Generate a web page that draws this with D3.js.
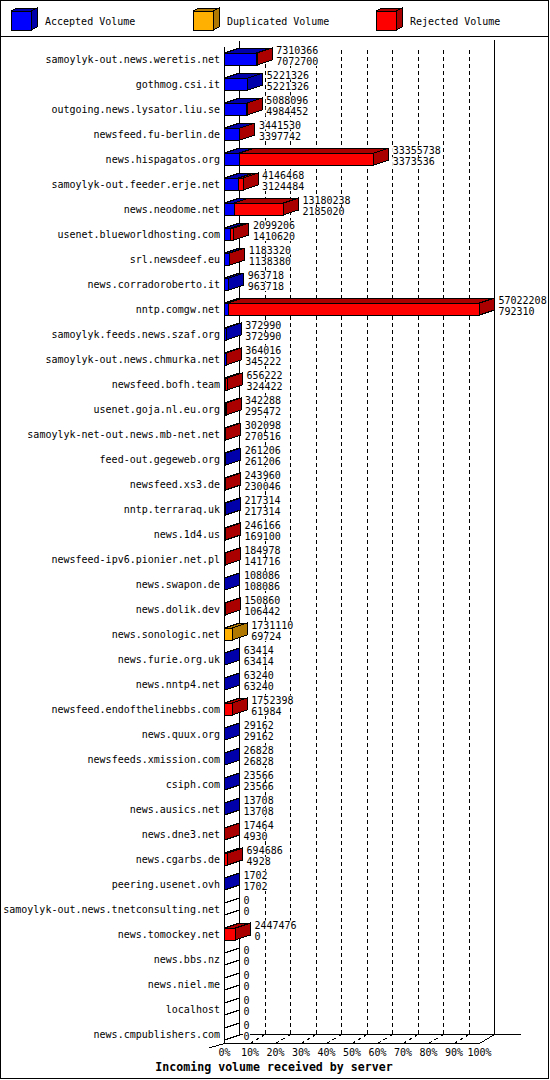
<!DOCTYPE html>
<html><head><meta charset="utf-8">
<script src="https://cdn.jsdelivr.net/npm/d3@7"></script>
<style>
body{margin:0;background:#fff}
svg text{font-family:"DejaVu Sans Mono","Liberation Mono",monospace;font-size:10px;fill:#000}
</style>
</head><body><svg id="c" width="550" height="1080"></svg>
<script>
const servers=["samoylyk-out.news.weretis.net","gothmog.csi.it","outgoing.news.lysator.liu.se","newsfeed.fu-berlin.de","news.hispagatos.org","samoylyk-out.feeder.erje.net","news.neodome.net","usenet.blueworldhosting.com","srl.newsdeef.eu","news.corradoroberto.it","nntp.comgw.net","samoylyk.feeds.news.szaf.org","samoylyk-out.news.chmurka.net","newsfeed.bofh.team","usenet.goja.nl.eu.org","samoylyk-net-out.news.mb-net.net","feed-out.gegeweb.org","newsfeed.xs3.de","nntp.terraraq.uk","news.1d4.us","newsfeed-ipv6.pionier.net.pl","news.swapon.de","news.dolik.dev","news.sonologic.net","news.furie.org.uk","news.nntp4.net","newsfeed.endofthelinebbs.com","news.quux.org","newsfeeds.xmission.com","csiph.com","news.ausics.net","news.dne3.net","news.cgarbs.de","peering.usenet.ovh","samoylyk-out.news.tnetconsulting.net","news.tomockey.net","news.bbs.nz","news.niel.me","localhost","news.cmpublishers.com"];
const totalVolume=[7310366,5221326,5088096,3441530,33355738,4146468,13180238,2099206,1183320,963718,57022208,372990,364016,656222,342288,302098,261206,243960,217314,246166,184978,108086,150860,1731110,63414,63240,1752398,29162,26828,23566,13708,17464,694686,1702,0,2447476,0,0,0,0];
const acceptedVolume=[7072700,5221326,4984452,3397742,3373536,3124484,2185020,1410620,1138380,963718,792310,372990,345222,324422,295472,270516,261206,230046,217314,169100,141716,108086,106442,69724,63414,63240,61984,29162,26828,23566,13708,4930,4928,1702,0,0,0,0,0,0];
const duplicatedVolume=[0,0,0,0,0,0,0,0,0,0,0,0,0,0,0,0,0,0,0,0,0,0,0,1661386,0,0,0,0,0,0,0,0,0,0,0,0,0,0,0,0];
const rejectedVolume=[237666,0,103644,43788,29982202,1021984,10995218,688586,44940,0,56229898,0,18794,331800,46816,31582,0,13914,0,77066,43262,0,44418,0,0,0,1690414,0,0,0,0,12534,689758,0,0,2447476,0,0,0,0];
const percentTicks=[0,10,20,30,40,50,60,70,80,90,100];
const seriesNames=["Accepted Volume","Duplicated Volume","Rejected Volume"];
const frontColors=["#0000ff","#ffb000","#ff0000"];
const sideColors=["#0000aa","#b07800","#aa0000"];
const axisTitle="Incoming volume received by server";

const svg=d3.select("#c");
const DX=15, DY=-5, H=12;
const x=d3.scaleLinear().domain([0,d3.max(totalVolume)]).range([224.5,479.5]);
const xp=d3.scaleLinear().domain([0,100]).range([224.5,479.5]);
const y=d3.scaleBand().domain(servers).range([46.5,1046.5]);
const floorY=1043.5, backFloorY=1034.5;

svg.append("rect").attr("x",0).attr("y",0).attr("width",550).attr("height",1080).attr("fill","#fff");
svg.append("rect").attr("x",0.5).attr("y",0.5).attr("width",548).attr("height",1078)
  .attr("fill","none").attr("stroke","#000").attr("shape-rendering","crispEdges");
svg.append("line").attr("x1",0).attr("x2",549).attr("y1",36.5).attr("y2",36.5)
  .attr("stroke","#000").attr("shape-rendering","crispEdges");

// legend
const legX=[11,193,376];
const lg=svg.append("g").selectAll("g").data(seriesNames).join("g");
lg.append("polygon").attr("points",(d,i)=>{const a=legX[i];return [[a,11],[a+20,11],[a+26,8],[a+6,8]].join(" ");})
  .attr("fill",(d,i)=>sideColors[i]).attr("stroke","#000").attr("shape-rendering","crispEdges");
lg.append("polygon").attr("points",(d,i)=>{const a=legX[i];return [[a+20,11],[a+26,8],[a+26,27],[a+20,30]].join(" ");})
  .attr("fill",(d,i)=>sideColors[i]).attr("stroke","#000").attr("shape-rendering","crispEdges");
lg.append("rect").attr("x",(d,i)=>legX[i]).attr("y",11).attr("width",20).attr("height",19)
  .attr("fill",(d,i)=>frontColors[i]).attr("stroke","#000").attr("shape-rendering","crispEdges");
lg.append("text").attr("x",(d,i)=>legX[i]+34).attr("y",24.5).text(d=>d);

// back grid
const grid=svg.append("g");
grid.selectAll("line.g").data(percentTicks.slice(1,10)).join("line")
  .attr("x1",d=>xp(d)+DX).attr("x2",d=>xp(d)+DX).attr("y1",50).attr("y2",backFloorY)
  .attr("stroke","#000").attr("stroke-dasharray","4,3").attr("shape-rendering","crispEdges");
grid.selectAll("line.f").data(percentTicks.slice(1,10)).join("line")
  .attr("x1",d=>xp(d)).attr("x2",d=>xp(d)+DX).attr("y1",floorY).attr("y2",backFloorY)
  .attr("stroke","#000").attr("stroke-dasharray","4,3").attr("shape-rendering","crispEdges");
const L=(x1,y1,x2,y2)=>grid.append("line").attr("x1",x1).attr("y1",y1).attr("x2",x2).attr("y2",y2)
  .attr("stroke","#000").attr("shape-rendering","crispEdges");
L(xp(0)+DX,41,xp(0)+DX,backFloorY);
L(xp(100)+DX,40,xp(100)+DX,backFloorY);
L(xp(0)+DX,backFloorY,521,backFloorY);
L(xp(100),floorY,xp(100)+DX,backFloorY);
L(xp(0),floorY,xp(100),floorY);
L(xp(0),47,xp(0),floorY);
L(209,1048,xp(0),floorY);

// bars
const rows=servers.map((s,i)=>{
  const vals=[acceptedVolume[i],duplicatedVolume[i],rejectedVolume[i]];
  let acc=0; const segs=[];
  vals.forEach((v,k)=>{ if(v>0){segs.push({k,x0:acc,x1:acc+v}); acc+=v;} });
  return {s,i,segs,total:totalVolume[i],acc:acceptedVolume[i]};
});
const bars=svg.append("g").selectAll("g").data(rows).join("g");
bars.each(function(r){
  const g=d3.select(this);
  const top=y(r.s)+12.5-6, bot=top+H;
  r.segs.forEach(sg=>{
    const a=x(sg.x0), b=x(sg.x1);
    g.append("polygon").attr("points",[[a,top],[b,top],[b+DX,top+DY],[a+DX,top+DY]].join(" "))
      .attr("fill",sideColors[sg.k]).attr("stroke","#000").attr("shape-rendering","crispEdges");
    g.append("rect").attr("x",a).attr("y",top).attr("width",b-a).attr("height",H)
      .attr("fill",frontColors[sg.k]).attr("stroke","#000").attr("shape-rendering","crispEdges");
  });
  const last=r.segs.length?r.segs[r.segs.length-1]:null;
  const e=x(last?last.x1:0);
  g.append("polygon").attr("points",[[e,top],[e+DX,top+DY],[e+DX,bot+DY],[e,bot]].join(" "))
    .attr("fill",last?sideColors[last.k]:"#fff").attr("stroke","#000").attr("shape-rendering","crispEdges");
});

// value labels
const vl=svg.append("g");
rows.forEach(r=>{
  const c=y(r.s)+12.5;
  const tx=x(r.total)+DX+4;
  [[String(r.total),c-5.5],[String(r.acc),c+6]].forEach(([t,by])=>{
    vl.append("rect").attr("x",tx-0.5).attr("y",by-8).attr("width",t.length*6+1).attr("height",9).attr("fill","#fff");
    vl.append("text").attr("x",tx).attr("y",by).text(t);
  });
});

// server labels
svg.append("g").selectAll("text").data(servers).join("text")
  .attr("x",220).attr("y",d=>y(d)+12.5+3.5).attr("text-anchor","end").text(d=>d);

// percent ticks
svg.append("g").selectAll("text").data(percentTicks).join("text")
  .attr("x",d=>xp(d)).attr("y",1056).attr("text-anchor","middle").text(d=>d+"%");

svg.append("text").attr("x",274).attr("y",1071).attr("text-anchor","middle")
  .style("font-weight","bold").style("font-size","11.6px").text(axisTitle);
</script></body></html>
